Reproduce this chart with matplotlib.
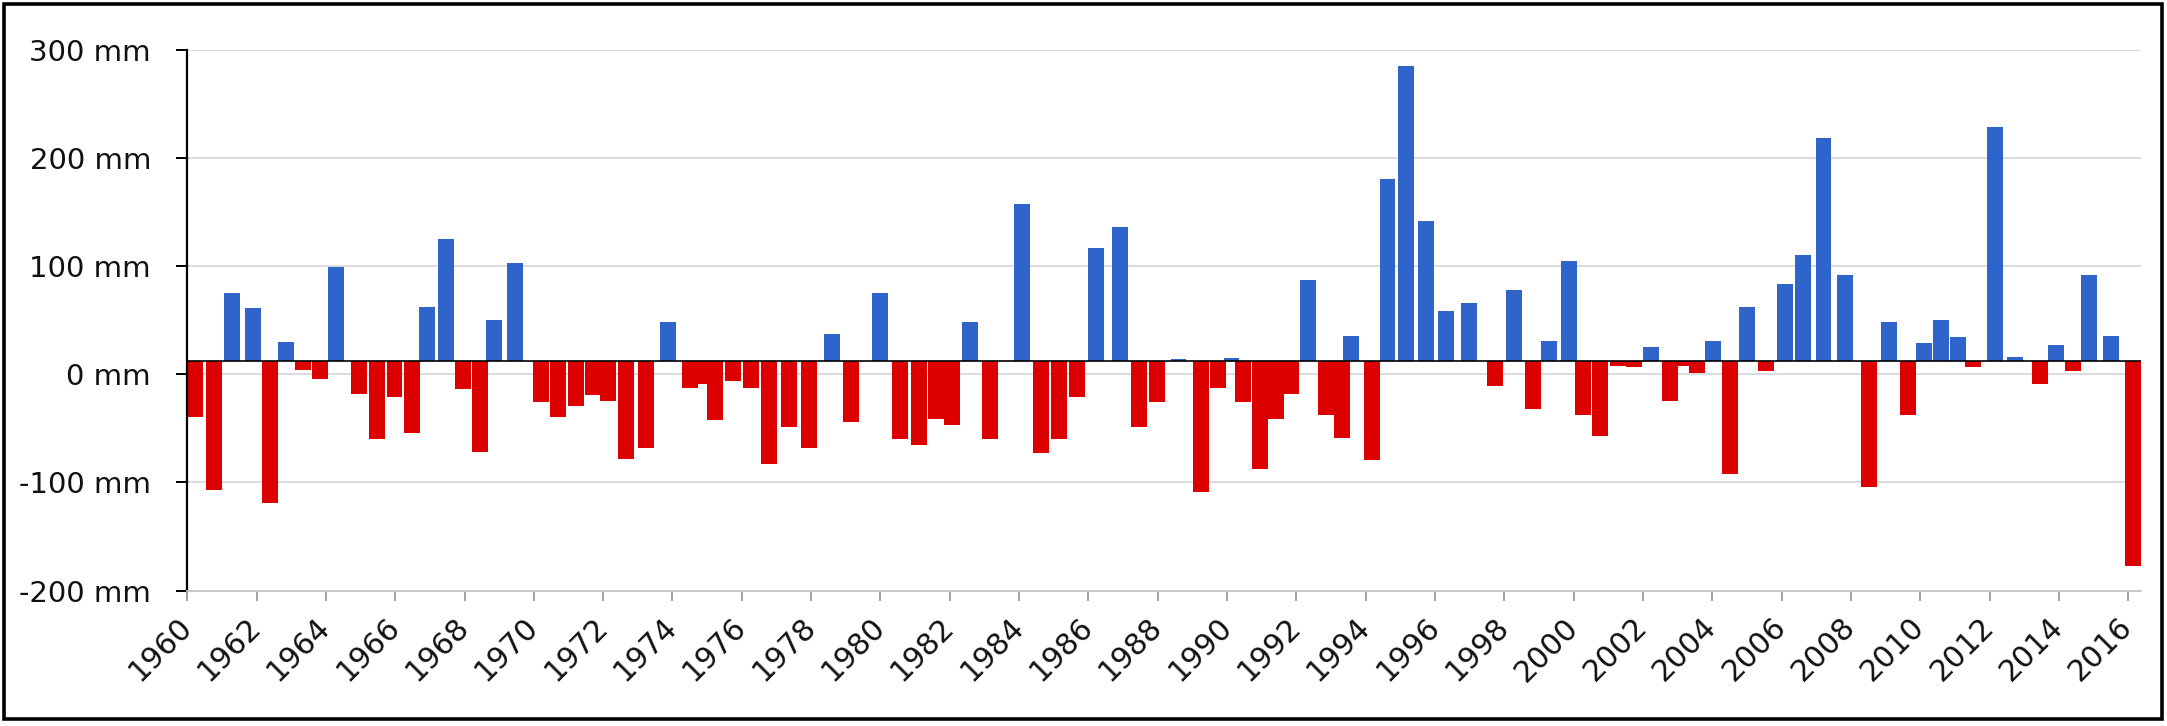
import matplotlib
matplotlib.use("Agg")
import matplotlib.pyplot as plt
from matplotlib.patches import Rectangle
from matplotlib.ticker import FuncFormatter
import numpy as np


# bar centre (decimal year) and bar end value in mm
years = [
    1960.23, 1960.77, 1961.28, 1961.90, 1962.38, 1962.86, 1963.34, 1963.82,
    1964.29, 1964.96, 1965.48, 1965.98, 1966.48, 1966.93, 1967.47, 1967.97,
    1968.46, 1968.85, 1969.47, 1970.20, 1970.70, 1971.22, 1971.70, 1972.15,
    1972.66, 1973.23, 1973.88, 1974.51, 1974.86, 1975.22, 1975.75, 1976.27,
    1976.79, 1977.35, 1977.93, 1978.59, 1979.15, 1980.00, 1980.56, 1981.10,
    1981.60, 1982.07, 1982.59, 1983.15, 1984.09, 1984.63, 1985.15, 1985.67,
    1986.23, 1986.92, 1987.47, 1987.99, 1988.60, 1989.24, 1989.75, 1990.13,
    1990.47, 1990.94, 1991.41, 1991.86, 1992.34, 1992.85, 1993.33, 1993.59,
    1994.17, 1994.63, 1995.17, 1995.75, 1996.32, 1996.97, 1997.72, 1998.28,
    1998.84, 1999.30, 1999.87, 2000.26, 2000.77, 2001.27, 2001.75, 2002.23,
    2002.77, 2003.16, 2003.57, 2004.03, 2004.52, 2005.00, 2005.55, 2006.09,
    2006.62, 2007.21, 2007.84, 2008.51, 2009.11, 2009.66, 2010.12, 2010.60,
    2011.09, 2011.53, 2012.17, 2012.74, 2013.45, 2013.91, 2014.40, 2014.87,
    2015.51, 2016.14,
]
values = [
    -40, -107, 75, 61, -119, 30, 4, -4,
    99, -18, -60, -21, -54, 62, 125, -14,
    -72, 50, 103, -26, -40, -29, -19, -25,
    -78, -68, 48, -13, -9, -42, -6, -13,
    -83, -49, -68, 37, -44, 75, -60, -65,
    -41, -47, 48, -60, 157, -73, -60, -21,
    117, 136, -49, -26, 14, -109, -13, 15,
    -26, -88, -41, -18, 87, -38, -59, 35,
    -79, 180, 285, 142, 58, 66, -11, 78,
    -32, 31, 105, -38, -57, 8, 7, 25,
    -25, 8, 1, 31, -92, 62, 3, 83,
    110, 218, 92, -104, 48, -38, 29, 50,
    34, 7, 228, 16, -9, 27, 3, 92,
    35, -177,
]
baseline = 12   # the black reference line sits slightly above 0 mm
year_ticks = list(range(1960, 2017, 2))
mm_ticks = [-200, -100, 0, 100, 200, 300]

blue = "#2f65cb"
red = "#dc0000"

plt.rcParams["font.family"] = ["DejaVu Sans"]

fig = plt.figure(figsize=(21.67, 7.26), dpi=100)
ax = fig.add_axes([0.0864, 0.1865, 0.9016, 0.7452])

x = np.array(years)
v = np.array(values, dtype=float)
cols = [blue if a >= baseline else red for a in v]
ax.bar(x, v - baseline, bottom=baseline, width=0.46, color=cols,
       linewidth=0, zorder=2)
ax.axhline(baseline, color="black", lw=1.2, zorder=3)

ax.set_xlim(1960, 2016.37)
ax.set_ylim(-200, 300)
ax.set_yticks(mm_ticks)
ax.yaxis.set_major_formatter(FuncFormatter(lambda t, p: f"{int(t)} mm"))
ax.set_xticks(year_ticks)
ax.set_xticklabels([str(y) for y in year_ticks], rotation=45, ha="right",
                   va="center", rotation_mode="anchor")

ax.grid(axis="y", color="#d9d9d9", lw=1.3, zorder=0)
ax.set_axisbelow(True)

for s in ["top", "right"]:
    ax.spines[s].set_visible(False)
ax.spines["left"].set_color("black")
ax.spines["left"].set_linewidth(1.6)
ax.spines["bottom"].set_color("#c4c4c4")
ax.spines["bottom"].set_linewidth(1.3)

ax.tick_params(axis="y", length=8, width=1.4, color="black", pad=18,
               labelsize=21, labelcolor="#111111")
ax.tick_params(axis="x", length=7, width=1.3, color="#9a9a9a", pad=16,
               labelsize=21.5, labelcolor="#111111")

# frame around the whole picture
fig.patches.append(Rectangle((0.0018, 0.0096), 0.9959, 0.9849,
                             transform=fig.transFigure, fill=False,
                             edgecolor="black", lw=2.6))

fig.savefig("out.png", dpi=100, facecolor="white")
